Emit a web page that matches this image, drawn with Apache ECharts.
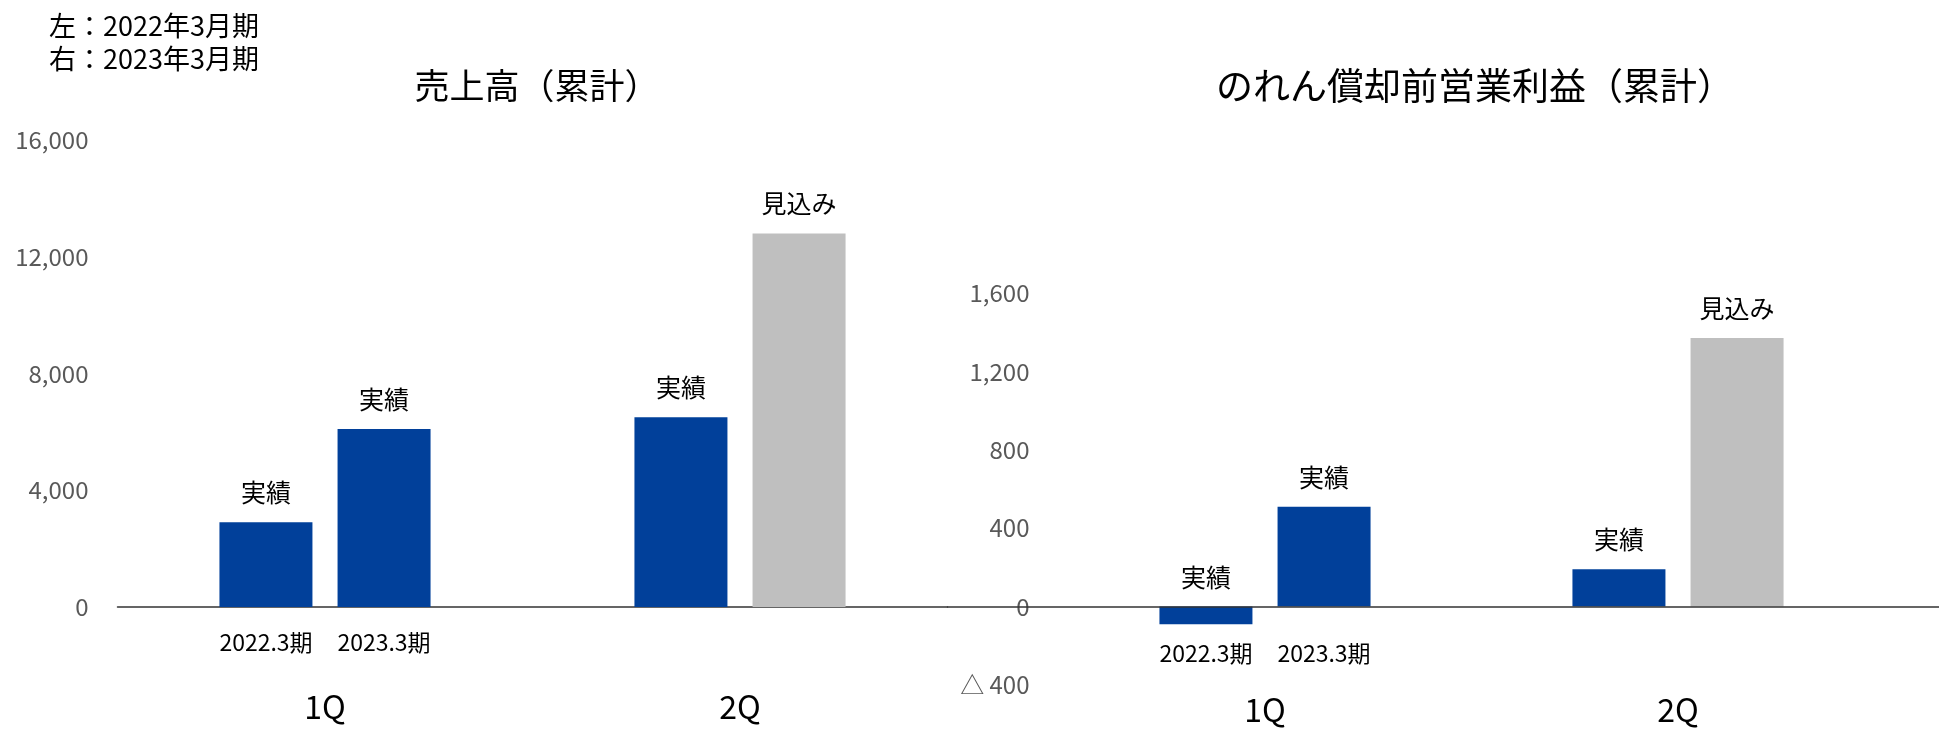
<!DOCTYPE html>
<html>
<head>
<meta charset="utf-8">
<title>売上高・のれん償却前営業利益（累計）</title>
<script src="https://cdn.jsdelivr.net/npm/echarts@6/dist/echarts.min.js"></script>
<style>
  html, body { margin: 0; padding: 0; background: #fff; }
  #chart { width: 1939px; height: 730px; }
</style>
</head>
<body>
<div id="chart"></div>
<script>
// Quarters (cumulative)
const categories = ['1Q', '2Q'];
// Period labels shown under the 1Q pair
const periodLabels = ['2022.3期', '2023.3期'];
// Kind of each value (actual / forecast)
const currKinds = ['実績', '見込み'];
const prevKinds = ['実績', '実績'];

// 売上高（累計） — 2022年3月期 / 2023年3月期
const salesPrev = [2900, 6500];
const salesCurr = [6100, 12800];

// のれん償却前営業利益（累計） — 2022年3月期 / 2023年3月期
const profitPrev = [-90, 190];
const profitCurr = [510, 1370];

// Axis ticks
const salesTicks = { min: 0, max: 16000, interval: 4000 };
const profitTicks = { min: -400, max: 1600, interval: 400 };

const BLUE = '#01409A';
const GRAY = '#BFBFBF';
const FONT = "'Noto Sans CJK JP', 'Noto Sans', sans-serif";

function barData(values, kinds) {
  return values.map((v, i) => ({
    value: v,
    itemStyle: { color: kinds[i] === '見込み' ? GRAY : BLUE },
    label: { formatter: kinds[i] }
  }));
}

function barSeries(axisIndex, values, kinds) {
  return {
    type: 'bar',
    xAxisIndex: axisIndex,
    yAxisIndex: axisIndex,
    barWidth: 93,
    barGap: '27%',
    data: barData(values, kinds),
    label: {
      show: true,
      position: 'top',
      distance: 17,
      color: '#000',
      fontFamily: FONT,
      fontSize: 25
    },
    silent: true
  };
}

// Category labels sit at the bottom edge of each grid; margin/lineHeights
// place the period line and the quarter line below the zero baseline.
function xAxisFor(gridIndex, margin, subHeight, qHeight, showLine) {
  return {
    type: 'category',
    gridIndex: gridIndex,
    data: categories,
    axisTick: { show: false },
    axisLine: { show: showLine, onZero: true, lineStyle: { color: '#333', width: 1.5 } },
    axisLabel: {
      margin: margin,
      interval: 0,
      formatter: (v, i) => (i === 0
        ? '{p|' + periodLabels[0] + '}{p|' + periodLabels[1] + '}'
        : '{p| }') + '\n{q|' + v + '}',
      rich: {
        p: { width: 118, align: 'center', fontFamily: FONT, fontSize: 23, color: '#000', lineHeight: subHeight },
        q: { fontFamily: FONT, fontSize: 32, color: '#000', lineHeight: qHeight, align: 'center' }
      }
    }
  };
}

function yAxisFor(gridIndex, ticks, formatter, show) {
  return {
    type: 'value',
    gridIndex: gridIndex,
    min: ticks.min,
    max: ticks.max,
    interval: ticks.interval,
    show: show,
    splitLine: { show: false },
    axisLine: { show: false },
    axisTick: { show: false },
    axisLabel: {
      margin: 29,
      color: '#595959',
      fontFamily: FONT,
      fontSize: 24,
      formatter: formatter
    }
  };
}

const fmtThousands = v => v.toLocaleString('en-US');
const fmtTriangle = v => (v < 0 ? '△ ' + Math.abs(v).toLocaleString('en-US') : v.toLocaleString('en-US'));

const chart = echarts.init(document.getElementById('chart'), null, { renderer: 'canvas' });

chart.setOption({
  backgroundColor: '#fff',
  animation: false,
  title: [
    {
      text: '左：2022年3月期\n右：2023年3月期',
      left: 44,
      top: 4,
      textStyle: { fontFamily: FONT, fontSize: 27, fontWeight: 'normal', color: '#000', lineHeight: 33 }
    },
    {
      text: '売上高（累計）',
      left: 532,
      top: 63,
      textAlign: 'center',
      textStyle: { fontFamily: FONT, fontSize: 35, fontWeight: 'normal', color: '#000' }
    },
    {
      text: 'のれん償却前営業利益（累計）',
      left: 1470,
      top: 62,
      textAlign: 'center',
      textStyle: { fontFamily: FONT, fontSize: 37, fontWeight: 'normal', color: '#000' }
    }
  ],
  grid: [
    // 売上高
    { left: 117.5, width: 830, top: 140, height: 467, outerBoundsMode: 'none' },
    // のれん償却前営業利益
    { left: 1058.5, width: 826, top: 293, height: 392, outerBoundsMode: 'none' },
    // zero baseline running to the right edge behind the profit chart
    { left: 947.5, right: 0, top: 293, height: 392, outerBoundsMode: 'none' }
  ],
  xAxis: [
    xAxisFor(0, 20, 30, 100, true),
    xAxisFor(1, -47, 30, 84, false),
    {
      type: 'category', gridIndex: 2, data: categories,
      axisTick: { show: false }, axisLabel: { show: false },
      axisLine: { show: true, onZero: true, lineStyle: { color: '#333', width: 1.5 } },
      z: 5
    }
  ],
  yAxis: [
    yAxisFor(0, salesTicks, fmtThousands, true),
    yAxisFor(1, profitTicks, fmtTriangle, true),
    yAxisFor(2, profitTicks, fmtTriangle, false)
  ],
  series: [
    barSeries(0, salesPrev, prevKinds),
    barSeries(0, salesCurr, currKinds),
    barSeries(1, profitPrev, prevKinds),
    barSeries(1, profitCurr, currKinds)
  ]
});
</script>
</body>
</html>
